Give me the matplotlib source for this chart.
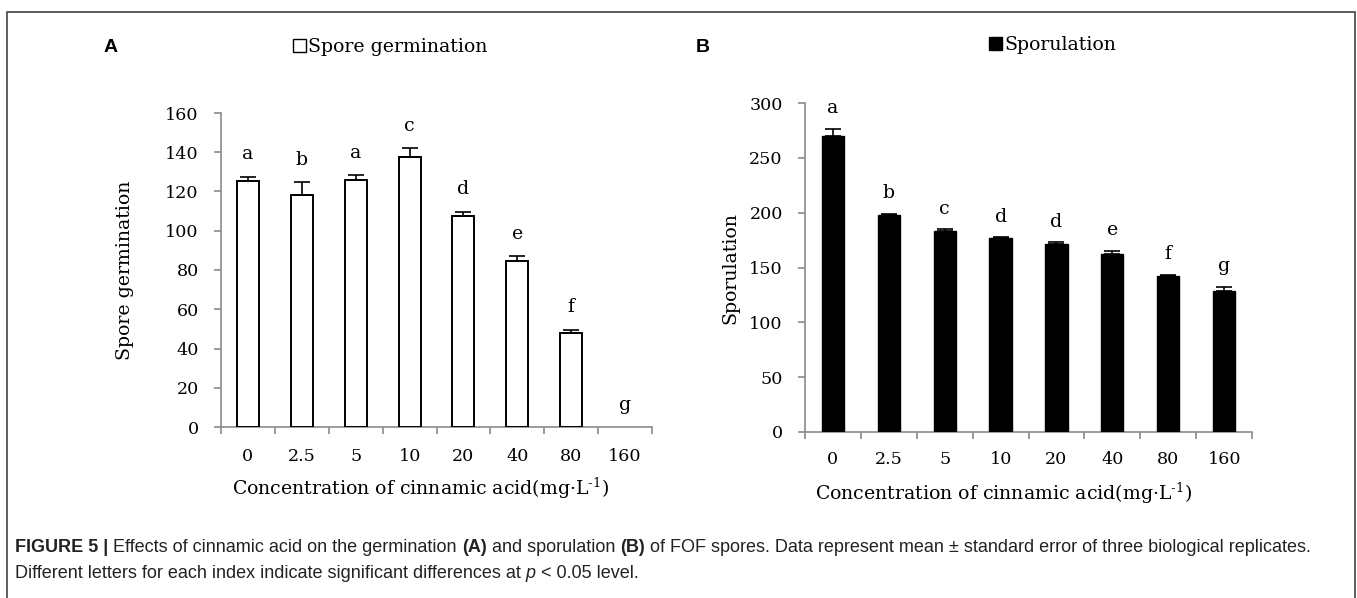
import matplotlib
matplotlib.use("Agg")
import matplotlib.pyplot as plt
from matplotlib.patches import Rectangle, Patch
import numpy as np

# ---------------- data ----------------
categories = ["0", "2.5", "5", "10", "20", "40", "80", "160"]
germination = [125.4, 118.1, 126.0, 137.6, 107.6, 84.7, 48.1, 0.0]
germination_err = [2.2, 6.5, 2.2, 4.5, 2.2, 2.2, 1.5, 0.0]
germination_letters = ["a", "b", "a", "c", "d", "e", "f", "g"]
sporulation = [270.0, 197.7, 183.7, 177.0, 171.8, 162.4, 142.0, 128.2]
sporulation_err = [6.5, 0.8, 1.0, 0.5, 1.0, 3.0, 1.0, 4.2]
sporulation_letters = ["a", "b", "c", "d", "d", "e", "f", "g"]
germ_yticks = [0, 20, 40, 60, 80, 100, 120, 140, 160]
spor_yticks = [0, 50, 100, 150, 200, 250, 300]
xlabel_text = "Concentration of cinnamic acid(mg·L$^{\\text{-1}}$)"

W, H = 1357, 598
plt.rcParams["mathtext.fontset"] = "dejavuserif"
SERIF = "DejaVu Serif"
FS_TICK = 12.6
FS_LAB = 13.6
AXC = "#8a8a8a"

fig = plt.figure(figsize=(W / 100, H / 100), dpi=100)


def fx(px):
    return px / W


def fy(py):
    return 1 - py / H


def axes_px(l, r, t, b):
    return fig.add_axes([fx(l), fy(b), fx(r) - fx(l), fy(t) - fy(b)])


def style_axes(ax, yticks, ylim, ypad, xpad):
    n = len(categories)
    x = np.arange(n)
    ax.set_xlim(-0.5, n - 0.5)
    ax.set_ylim(*ylim)
    for s in ["top", "right"]:
        ax.spines[s].set_visible(False)
    for s in ["left", "bottom"]:
        ax.spines[s].set_color(AXC)
        ax.spines[s].set_linewidth(1.2)
    ax.set_xticks(x)
    ax.set_xticklabels(categories, fontfamily=SERIF, fontsize=FS_TICK)
    ax.set_xticks(np.arange(n + 1) - 0.5, minor=True)
    ax.tick_params(axis="x", which="major", length=0, pad=xpad)
    ax.tick_params(axis="x", which="minor", length=5, width=1.2, color=AXC, direction="out")
    ax.set_yticks(yticks)
    ax.set_yticklabels([str(t) for t in yticks], fontfamily=SERIF, fontsize=FS_TICK)
    ax.tick_params(axis="y", length=5, width=1.2, color=AXC, direction="out", pad=ypad)
    ax.set_facecolor("none")
    return x


def draw_panel(ax, x, vals, errs, letters, face, width, lw, off):
    vals = np.asarray(vals, float)
    errs = np.asarray(errs, float)
    m = vals > 0
    ax.bar(x[m], vals[m], width=width, color=face, edgecolor="black", linewidth=lw, zorder=3)
    ax.errorbar(x[m], vals[m], yerr=[np.zeros(m.sum()), errs[m]], fmt="none",
                ecolor="black", elinewidth=1.2, capsize=5.5, capthick=1.2, zorder=4)
    for xi, v, e, lab in zip(x, vals, errs, letters):
        ax.annotate(lab, (xi, v + e), xytext=(0, off), textcoords="offset points",
                    ha="center", va="center", fontfamily=SERIF, fontsize=FS_LAB)


# ---------------- panel A ----------------
axA = axes_px(221, 652, 113, 427)
xA = style_axes(axA, germ_yticks, (0, 160), 11, 15)
draw_panel(axA, xA, germination, germination_err, germination_letters, "white", 0.41, 1.4, 16)

# ---------------- panel B ----------------
axB = axes_px(805, 1252, 103, 432)
xB = style_axes(axB, spor_yticks, (0, 300), 11, 14)
draw_panel(axB, xB, sporulation, sporulation_err, sporulation_letters, "black", 0.40, 1.0, 15)

# ---------------- labels ----------------
fig.text(fx(125), fy(270), "Spore germination", rotation=90, ha="center", va="center",
         fontfamily=SERIF, fontsize=FS_LAB)
fig.text(fx(730), fy(268), "Sporulation", rotation=90, ha="center", va="center",
         fontfamily=SERIF, fontsize=FS_LAB)
fig.text(fx(421), fy(488), xlabel_text, ha="center", va="center", fontfamily=SERIF, fontsize=FS_LAB)
fig.text(fx(1004), fy(493), xlabel_text, ha="center", va="center", fontfamily=SERIF, fontsize=FS_LAB)

fig.text(fx(111), fy(47), "A", ha="center", va="center", fontfamily="Liberation Sans",
         fontweight="bold", fontsize=14)
fig.text(fx(703), fy(47), "B", ha="center", va="center", fontfamily="Liberation Sans",
         fontweight="bold", fontsize=14)

fig.legend(handles=[Patch(facecolor="white", edgecolor="black", linewidth=1.0,
                          label="Spore germination")],
           loc="center left", bbox_to_anchor=(fx(293), fy(47)), frameon=False,
           handlelength=0.7, handleheight=0.7, handletextpad=0.12, borderpad=0,
           borderaxespad=0, prop={"family": SERIF, "size": FS_LAB})
fig.legend(handles=[Patch(facecolor="black", edgecolor="black", linewidth=1.0,
                          label="Sporulation")],
           loc="center left", bbox_to_anchor=(fx(989), fy(45)), frameon=False,
           handlelength=0.7, handleheight=0.7, handletextpad=0.12, borderpad=0,
           borderaxespad=0, prop={"family": SERIF, "size": FS_LAB})

# ---------------- border ----------------
fig.patches.append(Rectangle((fx(7), -0.1), fx(1355) - fx(7), fy(12.5) + 0.1,
                             transform=fig.transFigure, fill=False, edgecolor="#505050",
                             linewidth=1.3, zorder=0))

# ---------------- caption ----------------
renderer = fig.canvas.get_renderer()
CAP_FS = 13.0
CAPF = "Liberation Sans"


def draw_line(pieces, x0, y0):
    x = x0
    for txt, weight, style in pieces:
        t = fig.text(fx(x), fy(y0), txt, ha="left", va="center", fontfamily=CAPF,
                     fontsize=CAP_FS, fontweight=weight, fontstyle=style, color="#222222")
        bb = t.get_window_extent(renderer=renderer)
        x += bb.width


line1 = [("FIGURE 5 | ", "bold", "normal"),
         ("Effects of cinnamic acid on the germination ", "normal", "normal"),
         ("(A)", "bold", "normal"),
         (" and sporulation ", "normal", "normal"),
         ("(B)", "bold", "normal"),
         (" of FOF spores. Data represent mean \u00b1 standard error of three biological replicates.",
          "normal", "normal")]
line2 = [("Different letters for each index indicate significant differences at ", "normal", "normal"),
         ("p", "normal", "italic"),
         (" < 0.05 level.", "normal", "normal")]
draw_line(line1, 15, 548)
draw_line(line2, 15, 573)

fig.savefig("out.png", dpi=100)
